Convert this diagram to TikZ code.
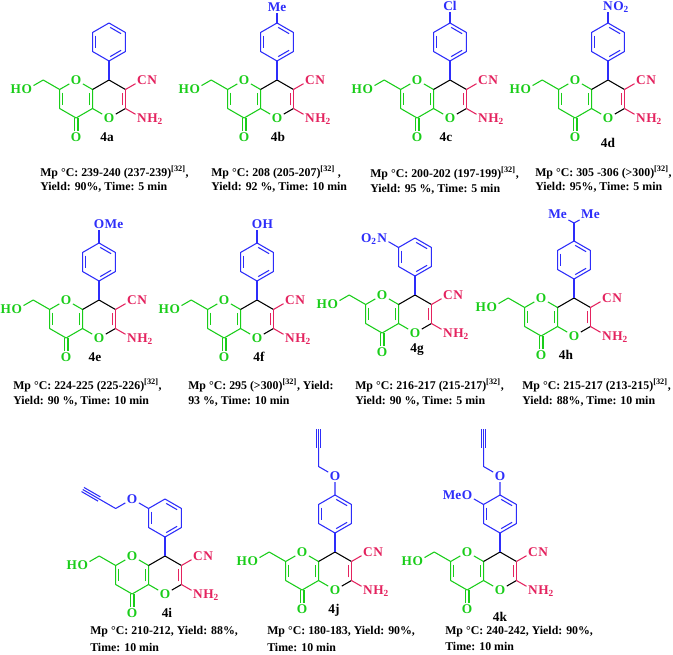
\documentclass[tikz,border=0pt]{standalone}
\usepackage{fontspec}
\setmainfont{Liberation Serif}
\usetikzlibrary{calc}
\definecolor{cgreen}{RGB}{25,205,25}
\definecolor{cblue}{RGB}{45,45,250}
\definecolor{cpink}{RGB}{228,35,95}
\newcommand\atomfont{\fontsize{10}{11}\selectfont\bfseries}
\newcommand\capfont{\fontsize{8.9}{10}\selectfont\bfseries}
\newcommand\dbl[3][]{\draw[#1] ($(#2)!0.17!(#3)!2.4pt!90:(#3)$) -- ($(#3)!0.17!(#2)!2.4pt!-90:(#2)$);}
\newcommand\trp[3][]{\draw[#1] (#2) -- (#3);
  \draw[#1] ($(#2)!1.8pt!90:(#3)$) -- ($(#3)!1.8pt!-90:(#2)$);
  \draw[#1] ($(#2)!1.8pt!-90:(#3)$) -- ($(#3)!1.8pt!90:(#2)$);}
\tikzset{
  bond/.style={line width=0.8pt,line join=round},
  gb/.style={bond,draw=cgreen},
  kb/.style={bond,draw=black},
  pb/.style={bond,draw=cpink},
  bb/.style={bond,draw=cblue},
  atom/.style={font=\atomfont,inner sep=1pt},
  gr/.style={atom,text=cgreen},
  pk/.style={atom,text=cpink},
  bl/.style={atom,text=cblue},
  restr/.style={anchor=base west,inner sep=0pt,xshift=-1pt},
  restl/.style={anchor=base east,inner sep=0pt,xshift=1pt},
  numlab/.style={font=\atomfont,text=black,inner sep=0pt},
  capt/.style={font=\capfont,anchor=west,inner sep=0pt},
  pics/core/.style={code={
    \coordinate (-c4) at (0,0);
    \coordinate (-c3) at (16.45,9.5);
    \coordinate (-c2) at (16.45,28.5);
    \coordinate (-c4a) at (-16.45,28.5);
    \coordinate (-c8a) at (-16.45,9.5);
    \coordinate (-c6) at (-49.35,9.5);
    \coordinate (-c5) at (-49.35,28.5);
    \coordinate (-cco) at (-32.9,38);
    \coordinate (-ch2) at (-65.8,0);
    \node[gr] (-o1) at (0,38) {O};
    \node[gr] (-oa) at (-32.9,0) {O};
    \node[gr] (-oco) at (-32.9,57) {O};
    \node[gr] (-oh) at (-82.25,9.5) {O};
    \node[gr,restl] (-hh) at (-oh.base west) {H};
    \node[pk] (-cn) at (32.9,0) {C};
    \node[pk,restr] (-nn) at (-cn.base east) {N};
    \node[pk] (-nh) at (32.9,38) {N};
    \node[pk,restr] (-h2) at (-nh.base east) {H\textsubscript{2}};
    \draw[gb] (-oh) -- (-ch2) -- (-c6) -- (-oa) -- (-c8a) -- (-c4a) -- (-cco) -- (-c5) -- (-c6);
    \draw[gb] (-c4a) -- (-o1);
    \dbl[gb]{-c6}{-c5}
    \dbl[gb]{-c4a}{-c8a}
    \draw[gb] ($(-cco)+(-1.9,0)$) -- ($(-oco.north)+(-1.9,0)$);
    \draw[gb] ($(-cco)+(1.9,0)$) -- ($(-oco.north)+(1.9,0)$);
    \draw[kb] (-c8a) -- (-c4) -- (-c3);
    \draw[kb] (-o1) -- (-c2);
    \draw[pb] (-c3) -- (-c2);
    \dbl[pb]{-c2}{-c3}
    \draw[pb] (-c3) -- (-cn);
    \draw[pb] (-c2) -- (-nh);
  }},
  pics/phen/.style={code={
    \coordinate (-p1) at (0,-19);
    \coordinate (-p2) at (-16.45,-28.5);
    \coordinate (-p3) at (-16.45,-47.5);
    \coordinate (-p4) at (0,-57);
    \coordinate (-p5) at (16.45,-47.5);
    \coordinate (-p6) at (16.45,-28.5);
    \draw[bb] (-c4) -- (-p1);
    \draw[bb] (-p1) -- (-p2) -- (-p3) -- (-p4) -- (-p5) -- (-p6) -- cycle;
    \dbl[bb]{-p5}{-p4}
    \dbl[bb]{-p1}{-p6}
    \dbl[bb]{-p3}{-p2}
  }}
}
\begin{document}
\begin{tikzpicture}[x=0.75pt,y=-0.75pt]
\useasboundingbox[fill=white] (0,0) rectangle (673,655);
% ---------- row 1 ----------
\pic (a) at (109,80) {core}; \pic (a) at (109,80) {phen};
\pic (b) at (277,80) {core}; \pic (b) at (277,80) {phen};
\pic (c) at (450,80) {core}; \pic (c) at (450,80) {phen};
\pic (d) at (608,80) {core}; \pic (d) at (608,80) {phen};
\node[bl] (b-me) at (277,7) {Me}; \draw[bb] (b-p4) -- (b-me);
\node[bl] (c-cl) at (450,6) {Cl}; \draw[bb] (c-p4) -- (c-cl);
\node[bl] (d-n) at (608,6) {N}; \node[bl,restr] (d-o2) at (d-n.base east) {O\textsubscript{2}};
\draw[bb] (d-p4) -- (d-n);
\node[numlab] (a-lab) at (107,137) {4a};
\node[numlab] (b-lab) at (278,137) {4b};
\node[numlab] (c-lab) at (446,137) {4c};
\node[numlab] (d-lab) at (608,143) {4d};
\node[capt] (a-m) at (40,172) {Mp °C: 239-240 (237-239)\textsuperscript{[32]},};
\node[capt] (a-y) at (40,187) {Yield: 90\%, Time: 5 min};
\node[capt] (b-m) at (211,172) {Mp °C: 208 (205-207)\textsuperscript{[32]} ,};
\node[capt] (b-y) at (211,187) {Yield: 92 \%, Time: 10 min};
\node[capt] (c-m) at (370,173) {Mp °C: 200-202 (197-199)\textsuperscript{[32]},};
\node[capt] (c-y) at (370,189) {Yield: 95 \%, Time: 5 min};
\node[capt] (d-m) at (535,172) {Mp °C: 305 -306 (>300)\textsuperscript{[32]},};
\node[capt] (d-y) at (535,187) {Yield: 95\%, Time: 5 min};
% ---------- row 2 ----------
\pic (e) at (99,300) {core}; \pic (e) at (99,300) {phen};
\pic (f) at (257,300) {core}; \pic (f) at (257,300) {phen};
\pic (g) at (415,295) {core}; \pic (g) at (415,295) {phen};
\pic (h) at (574,298) {core}; \pic (h) at (574,298) {phen};
\node[bl] (e-o) at (99,224) {O}; \node[bl,restr] (e-me) at (e-o.base east) {Me};
\draw[bb] (e-p4) -- (e-o);
\node[bl] (f-o) at (257,224) {O}; \node[bl,restr] (f-h) at (f-o.base east) {H};
\draw[bb] (f-p4) -- (f-o);
\node[bl] (g-n) at (382.1,238) {N}; \node[bl,restl] (g-o2) at (g-n.base west) {O\textsubscript{2}};
\draw[bb] (g-p3) -- (g-n);
\coordinate (h-ch) at (574,223);
\node[bl] (h-me1) at (557.55,214) {Me};
\node[bl] (h-me2) at (590.45,214) {Me};
\draw[bb] (h-p4) -- (h-ch);
\draw[bb] (h-me1) -- (h-ch) -- (h-me2);
\node[numlab] (e-lab) at (95,357) {4e};
\node[numlab] (f-lab) at (259,357) {4f};
\node[numlab] (g-lab) at (417,350) {4g};
\node[numlab] (h-lab) at (566,355) {4h};
\node[capt] (e-m) at (13,385) {Mp °C: 224-225 (225-226)\textsuperscript{[32]},};
\node[capt] (e-y) at (13,401) {Yield: 90 \%, Time: 10 min};
\node[capt] (f-m) at (188,385) {Mp °C: 295 (>300)\textsuperscript{[32]}, Yield:};
\node[capt] (f-y) at (188,401) {93 \%, Time: 10 min};
\node[capt] (g-m) at (355,385) {Mp °C: 216-217 (215-217)\textsuperscript{[32]},};
\node[capt] (g-y) at (355,401) {Yield: 90 \%, Time: 5 min};
\node[capt] (h-m) at (522,385) {Mp °C: 215-217 (213-215)\textsuperscript{[32]},};
\node[capt] (h-y) at (522,401) {Yield: 88\%, Time: 10 min};
% ---------- row 3 ----------
\pic (i) at (165,556) {core}; \pic (i) at (165,556) {phen};
\pic (j) at (335,552) {core}; \pic (j) at (335,552) {phen};
\pic (k) at (500,552) {core}; \pic (k) at (500,552) {phen};
\node[bl] (i-o) at (132.1,499) {O};
\coordinate (i-ch2) at (115.65,508.5);
\coordinate (i-a1) at (99.2,499);
\coordinate (i-a2) at (82.75,489.5);
\draw[bb] (i-p3) -- (i-o) -- (i-ch2) -- (i-a1);
\trp[bb]{i-a1}{i-a2}
\node[bl] (j-o) at (335,476) {O};
\coordinate (j-ch2) at (318.55,466.5);
\coordinate (j-a1) at (318.55,447.5);
\coordinate (j-a2) at (318.55,428.5);
\draw[bb] (j-p4) -- (j-o) -- (j-ch2) -- (j-a1);
\trp[bb]{j-a1}{j-a2}
\node[bl] (k-o) at (500,476) {O};
\coordinate (k-ch2) at (483.55,466.5);
\coordinate (k-a1) at (483.55,447.5);
\coordinate (k-a2) at (483.55,428.5);
\draw[bb] (k-p4) -- (k-o) -- (k-ch2) -- (k-a1);
\trp[bb]{k-a1}{k-a2}
\node[bl] (k-om) at (467.1,495) {O}; \node[bl,restl] (k-me) at (k-om.base west) {Me};
\draw[bb] (k-p3) -- (k-om);
\node[numlab] (i-lab) at (167,613) {4i};
\node[numlab] (j-lab) at (334,610) {4j};
\node[numlab] (k-lab) at (500,617) {4k};
\node[capt] (i-m) at (90,632) {Mp °C: 210-212, Yield: 88\%,};
\node[capt] (i-y) at (90,647) {Time: 10 min};
\node[capt] (j-m) at (267,632) {Mp °C: 180-183, Yield: 90\%,};
\node[capt] (j-y) at (267,647) {Time: 10 min};
\node[capt] (k-m) at (445,632) {Mp °C: 240-242, Yield: 90\%,};
\node[capt] (k-y) at (445,646) {Time: 10 min};
\end{tikzpicture}
\end{document}
